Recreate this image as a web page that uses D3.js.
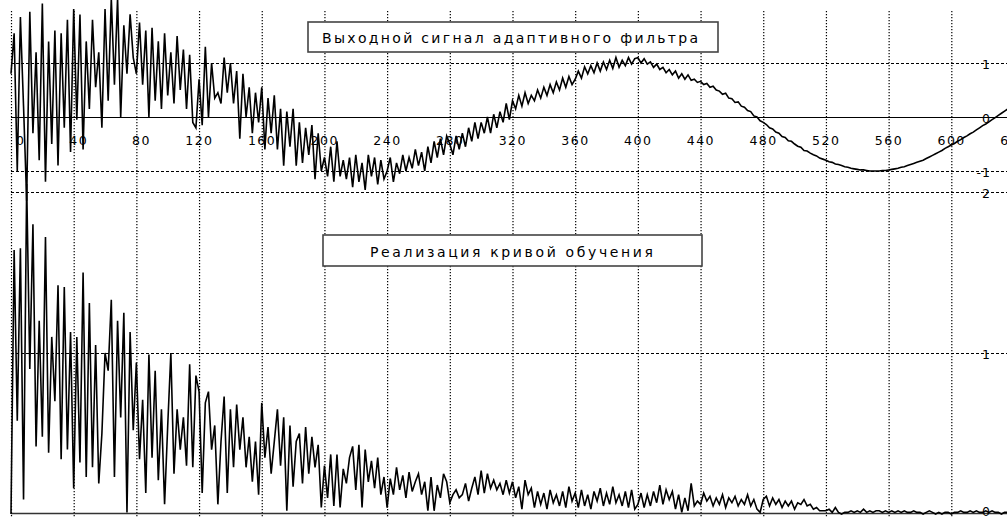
<!DOCTYPE html>
<html>
<head>
<meta charset="utf-8">
<script src="https://cdn.jsdelivr.net/npm/d3@7"></script>
<style>
  body { margin: 0; background: #fff; }
  svg { display: block; }
  text { font-family: "DejaVu Sans", "Liberation Sans", sans-serif; fill: #000; }
</style>
</head>
<body>
<div class="canvas"></div>
<script>
let width = 1007;
let height = 518;

// tick labels
let xTicks = [0, 40, 80, 120, 160, 200, 240, 280, 320, 360, 400, 440, 480, 520, 560, 600, 640];
let topTicks = [1, 0, -1];
let bottomTicks = [2, 1, 0];
let topTitle = 'Выходной сигнал адаптивного фильтра';
let bottomTitle = 'Реализация кривой обучения';

// samples every 2 steps, 0..640
let sampleX = d3.range(0, 641, 2);

// output of the adaptive filter (one row per grid cell)
let filterOutput = [
  0.8, 1.55, -1.0, 1.85, 0.2, -1.55, 1.95, -0.3, 1.2, -0.8, 2.1, -1.2, 1.4, -0.5, 1.6, -0.9, 1.55, -0.2, 1.8, -0.65,
  2.0, -0.05, 1.9, -0.6, 1.4, 0.15, 1.8, 0.55, 1.2, -0.2, 2.0, 0.3, 2.2, 0.6, 2.2, 0.0, 1.7, 0.8, 1.9, 1.1,
  0.8, 1.75, 0.6, 1.6, 0.0, 1.65, 0.3, 1.4, 0.15, 1.55, 0.4, 1.2, 0.25, 1.5, 0.5, 1.25, 0.15, 1.15, -0.1, -0.2,
  0.7, -0.15, 1.3, 0.0, 1.0, 0.35, 0.45, 0.25, 1.1, 0.45, 1.0, 0.25, 0.85, -0.4, 0.8, 0.0, 0.55, -0.3, 0.45, -0.1,
  0.55, -0.6, 0.35, -0.3, 0.4, -0.6, 0.15, -0.9, 0.1, -0.55, 0.15, -0.9, -0.1, -0.85, -0.2, -0.7, -0.15, -1.15, -0.3, -1.0,
  -0.75, -1.1, -0.55, -1.2, -0.45, -1.1, -0.8, -1.15, -0.75, -1.3, -0.7, -1.2, -0.85, -1.35, -0.7, -1.1, -0.75, -1.25, -0.8, -1.15,
  -1.0, -0.75, -1.2, -0.85, -1.05, -0.7, -1.0, -0.75, -0.95, -0.6, -0.9, -0.65, -1.0, -0.55, -0.85, -0.45, -0.75, -0.4, -0.7, -0.35,
  -0.5, -0.7, -0.35, -0.6, -0.3, -0.55, -0.2, -0.45, -0.1, -0.4, -0.1, -0.3, 0.0, -0.3, 0.05, -0.2, 0.1, -0.1, 0.25, -0.05,
  0.3, 0.15, 0.4, 0.2, 0.45, 0.25, 0.4, 0.3, 0.5, 0.35, 0.55, 0.4, 0.6, 0.45, 0.65, 0.5, 0.72, 0.55, 0.75, 0.6,
  0.7, 0.85, 0.72, 0.93, 0.8, 0.95, 0.82, 1.0, 0.85, 1.02, 0.88, 1.05, 0.9, 1.1, 0.92, 1.05, 0.95, 1.1, 0.98, 1.08,
  1.1, 1.0, 1.08, 0.98, 1.02, 0.92, 0.98, 0.88, 0.92, 0.82, 0.88, 0.78, 0.85, 0.72, 0.8, 0.7, 0.78, 0.68, 0.7, 0.64,
  0.66, 0.6, 0.62, 0.55, 0.57, 0.5, 0.48, 0.42, 0.44, 0.35, 0.34, 0.27, 0.28, 0.2, 0.18, 0.12, 0.1, 0.02, 0.0, -0.07,
  -0.1, -0.14, -0.2, -0.22, -0.28, -0.3, -0.36, -0.38, -0.44, -0.45, -0.5, -0.54, -0.56, -0.62, -0.63, -0.67, -0.7, -0.72, -0.76, -0.78,
  -0.8, -0.83, -0.84, -0.87, -0.88, -0.9, -0.92, -0.93, -0.95, -0.96, -0.97, -0.98, -0.98, -0.99, -1.0, -1.0, -1.0, -1.0, -0.99, -0.99,
  -0.98, -0.97, -0.96, -0.95, -0.93, -0.92, -0.9, -0.88, -0.86, -0.84, -0.82, -0.8, -0.77, -0.74, -0.71, -0.68, -0.65, -0.62, -0.58, -0.55,
  -0.52, -0.49, -0.45, -0.42, -0.38, -0.35, -0.31, -0.28, -0.24, -0.2, -0.16, -0.13, -0.09, -0.05, -0.01, 0.03, 0.07, 0.11, 0.15, 0.19, 0.23
];

// learning curve (squared error)
let learningCurve = [
  0.0, 1.64, 0.58, 1.65, 0.09, 2.05, 0.9, 1.8, 0.42, 1.2, 0.48, 1.72, 0.38, 1.1, 0.7, 1.42, 0.34, 1.41, 0.4, 1.13,
  0.16, 1.1, 0.32, 1.5, 0.23, 1.31, 0.29, 1.05, 0.19, 0.5, 1.0, 0.89, 1.33, 0.23, 1.2, 0.6, 1.25, 0.01, 1.13, 0.52,
  0.94, 0.34, 0.71, 0.13, 0.99, 0.35, 0.89, 0.21, 0.65, 0.06, 0.55, 1.0, 0.25, 0.65, 0.4, 0.6, 0.3, 0.93, 0.29, 0.86,
  0.76, 0.13, 0.69, 0.76, 0.4, 0.55, 0.06, 0.45, 0.73, 0.13, 0.65, 0.29, 0.68, 0.4, 0.6, 0.29, 0.48, 0.2, 0.45, 0.12,
  0.69, 0.35, 0.54, 0.25, 0.45, 0.65, 0.3, 0.6, 0.02, 0.55, 0.17, 0.45, 0.5, 0.19, 0.54, 0.25, 0.48, 0.29, 0.43, 0.04,
  0.3, 0.1, 0.37, 0.05, 0.37, 0.04, 0.28, 0.19, 0.35, 0.42, 0.15, 0.43, 0.04, 0.4, 0.2, 0.33, 0.16, 0.35, 0.12, 0.23,
  0.04, 0.22, 0.12, 0.29, 0.15, 0.24, 0.1, 0.26, 0.14, 0.2, 0.25, 0.12, 0.2, 0.02, 0.23, 0.02, 0.18, 0.1, 0.25, 0.2,
  0.07, 0.12, 0.15, 0.1, 0.12, 0.19, 0.08, 0.16, 0.23, 0.12, 0.27, 0.13, 0.25, 0.16, 0.21, 0.15, 0.19, 0.12, 0.21, 0.13,
  0.2, 0.1, 0.17, 0.03, 0.21, 0.12, 0.16, 0.04, 0.14, 0.06, 0.13, 0.03, 0.15, 0.07, 0.12, 0.05, 0.14, 0.04, 0.17, 0.08,
  0.13, 0.04, 0.15, 0.05, 0.12, 0.03, 0.14, 0.08, 0.16, 0.05, 0.13, 0.06, 0.17, 0.07, 0.12, 0.05, 0.14, 0.04, 0.15, 0.03,
  0.06, 0.13, 0.04, 0.12, 0.05, 0.14, 0.07, 0.18, 0.06, 0.15, 0.09, 0.14, 0.03, 0.12, 0.01, 0.1, 0.02, 0.19, 0.05, 0.08,
  0.06, 0.13, 0.08, 0.11, 0.05, 0.1, 0.06, 0.12, 0.04, 0.1, 0.07, 0.11, 0.05, 0.09, 0.06, 0.12, 0.05, 0.09, 0.03, 0.01,
  0.09, 0.11, 0.05, 0.1, 0.06, 0.09, 0.04, 0.08, 0.05, 0.08, 0.03, 0.07, 0.06, 0.09, 0.05, 0.06, 0.03, 0.04, 0.02, 0.02,
  0.02, 0.03, 0.01, 0.04, 0.01, 0.0, 0.01, 0.01, 0.02, 0.01, 0.02, 0.01, 0.03, 0.01, 0.02, 0.01, 0.02, 0.02, 0.01, 0.02,
  0.01, 0.02, 0.01, 0.02, 0.01, 0.02, 0.01, 0.01, 0.02, 0.01, 0.01, 0.0, 0.01, 0.02, 0.01, 0.0, 0.01, 0.0, 0.01, 0.01,
  0.0, 0.01, 0.01, 0.02, 0.01, 0.01, 0.02, 0.01, 0.02, 0.01, 0.01, 0.02, 0.01, 0.02, 0.01, 0.01, 0.0, 0.01, 0.01, 0.02, 0.01
];

document.addEventListener("DOMContentLoaded", function () {
  let svg = d3.select('.canvas')
    .append('svg')
    .attr('width', width)
    .attr('height', height);

  let xScale = d3.scaleLinear().domain([0, 640]).range([11, 1014]);
  let yTop = d3.scaleLinear().domain([-1, 1]).range([171, 63]);
  let yBottom = d3.scaleLinear().domain([0, 2]).range([514, 192]);

  // vertical dotted grid
  svg.append('g')
    .selectAll('line')
    .data(xTicks)
    .enter()
    .append('line')
    .attr('x1', d => xScale(d) + 0.5)
    .attr('x2', d => xScale(d) + 0.5)
    .attr('y1', 11)
    .attr('y2', height)
    .attr('stroke', '#000')
    .attr('stroke-width', 1.2)
    .attr('stroke-dasharray', '1.2,1.8');

  // horizontal dashed grid
  let dashed = [
    ...topTicks.filter(d => d !== 0).map(d => yTop(d)),
    ...bottomTicks.filter(d => d !== 0).map(d => yBottom(d))
  ];
  svg.append('g')
    .selectAll('line')
    .data(dashed)
    .enter()
    .append('line')
    .attr('x1', xScale(0))
    .attr('x2', width)
    .attr('y1', d => Math.round(d) + 0.5)
    .attr('y2', d => Math.round(d) + 0.5)
    .attr('stroke', '#000')
    .attr('stroke-width', 1)
    .attr('stroke-dasharray', '3,2');

  // zero lines
  svg.append('line')
    .attr('x1', xScale(0)).attr('x2', width)
    .attr('y1', yTop(0) + 0.5).attr('y2', yTop(0) + 0.5)
    .attr('stroke', '#000').attr('stroke-width', 1.2);
  svg.append('line')
    .attr('x1', xScale(0)).attr('x2', width)
    .attr('y1', yBottom(0) - 0.5).attr('y2', yBottom(0) - 0.5)
    .attr('stroke', '#333').attr('stroke-width', 1.5);

  // x tick labels
  svg.append('g')
    .selectAll('text')
    .data(xTicks)
    .enter()
    .append('text')
    .attr('x', d => xScale(d) + 14.5)
    .attr('y', 140)
    .attr('dominant-baseline', 'central')
    .attr('text-anchor', 'end')
    .style('font-size', '12.5px')
    .style('letter-spacing', '1.5px')
    .text(d => d);

  // series
  let topLine = d3.line()
    .x((d, i) => xScale(sampleX[i]))
    .y(d => yTop(d));
  let bottomLine = d3.line()
    .x((d, i) => xScale(sampleX[i]))
    .y(d => yBottom(d));

  svg.append('path')
    .datum(filterOutput)
    .attr('d', topLine)
    .attr('fill', 'none')
    .attr('stroke', '#000')
    .attr('stroke-width', 1.6)
    .attr('stroke-linejoin', 'miter');

  svg.append('path')
    .datum(learningCurve)
    .attr('d', bottomLine)
    .attr('fill', 'none')
    .attr('stroke', '#000')
    .attr('stroke-width', 1.6)
    .attr('stroke-linejoin', 'miter');

  // right-side value labels
  let rightLabels = [
    ...topTicks.map(d => ({ t: d, y: yTop(d) + 1 })),
    ...bottomTicks.map(d => ({ t: d, y: Math.min(yBottom(d) + 1, 511) }))
  ];
  svg.append('g')
    .selectAll('text')
    .data(rightLabels)
    .enter()
    .append('text')
    .attr('x', 991)
    .attr('y', d => d.y)
    .attr('dominant-baseline', 'central')
    .attr('text-anchor', 'end')
    .style('font-size', '12.5px')
    .style('letter-spacing', '1px')
    .text(d => d.t);

  // title boxes
  let titles = [
    { text: topTitle, x0: 308, x1: 718, y0: 22, y1: 52, tx: 322, tw: 376 },
    { text: bottomTitle, x0: 323, x1: 702, y0: 235, y1: 266, tx: 370, tw: 283 }
  ];
  let boxes = svg.append('g')
    .selectAll('g')
    .data(titles)
    .enter()
    .append('g');

  boxes.append('rect')
    .attr('x', d => d.x0)
    .attr('y', d => d.y0)
    .attr('width', d => d.x1 - d.x0)
    .attr('height', d => d.y1 - d.y0)
    .attr('fill', '#fff')
    .attr('stroke', '#444')
    .attr('stroke-width', 1.6);

  boxes.append('text')
    .attr('x', d => d.tx)
    .attr('y', d => (d.y0 + d.y1) / 2 + 1)
    .attr('dominant-baseline', 'central')
    .attr('textLength', d => d.tw)
    .attr('lengthAdjust', 'spacing')
    .style('font-size', '14px')
    .text(d => d.text);
});
</script>
</body>
</html>
